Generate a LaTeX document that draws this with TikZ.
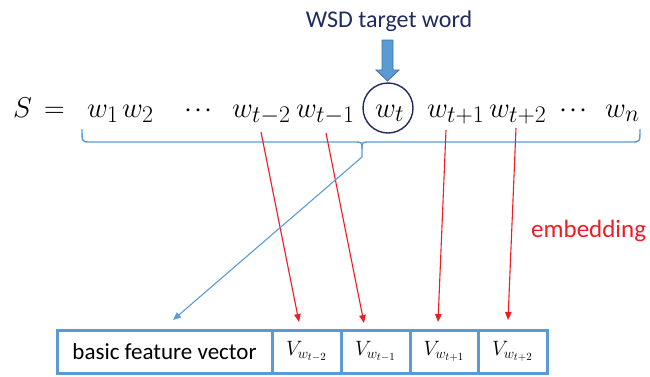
\documentclass[tikz,border=0pt]{standalone}
\usepackage{graphicx}
\usepackage{fontspec}
\newfontfamily\calfont{Carlito}
\usetikzlibrary{arrows.meta}
\definecolor{navy}{RGB}{32,42,94}
\definecolor{bblue}{RGB}{91,155,213}
\definecolor{bdark}{RGB}{65,113,156}
\definecolor{rred}{RGB}{238,28,36}
\newcommand{\mybigtok}[1]{\scalebox{1.15}{\fontsize{24.88}{24.88}\selectfont #1}}
\newcommand{\mythreedots}{$\cdot$\hspace{2pt}$\cdot$\hspace{2pt}$\cdot$}
\tikzset{
  mtok/.style={anchor=base west, inner sep=0pt},
  cell/.style={draw=bblue, line width=3pt, minimum height=43pt, inner sep=0pt, fill=white},
  vcell/.style={cell, font=\fontsize{21}{21}\selectfont},
  redarrow/.style={draw=rred, line width=1.1pt, -{Triangle[length=8pt,width=6.5pt]}},
  bluearrow/.style={draw=bblue, line width=1.1pt, -{Triangle[length=8pt,width=6.5pt]}},
}
\begin{document}
\begin{tikzpicture}[x=1pt,y=-1pt]
\useasboundingbox (0,0) rectangle (650,376);
% title
\node[anchor=base, inner sep=0pt, text=navy, font=\calfont\fontsize{24}{24}\selectfont] (title) at (389,27) {WSD target word};
% block arrow
\fill[bblue, draw=bdark, line width=0.8pt] (382,40) -- (393,40) -- (393,70) -- (399,70) -- (387.5,81) -- (376,70) -- (382,70) -- cycle;
% sentence
\node[mtok] (S) at (13,117) {\mybigtok{$S$}};
\node[mtok] (eq) at (44,117) {\mybigtok{$=$}};
\node[mtok] (w1) at (87,117) {\mybigtok{$w_1$}};
\node[mtok] (w2) at (122,117) {\mybigtok{$w_2$}};
\node[mtok] (d1) at (184,117) {\mybigtok{\mythreedots}};
\node[mtok] (wtm2) at (232,117) {\mybigtok{$w_{t-2}$}};
\node[mtok] (wtm1) at (296,117) {\mybigtok{$w_{t-1}$}};
\node[mtok] (wt) at (375,117) {\mybigtok{$w_t$}};
\node[draw=navy, line width=1.4pt, circle, minimum size=50pt, inner sep=0pt] (circ) at (388,108) {};
\node[mtok] (wtp1) at (427,117) {\mybigtok{$w_{t+1}$}};
\node[mtok] (wtp2) at (489,117) {\mybigtok{$w_{t+2}$}};
\node[mtok] (d2) at (559,117) {\mybigtok{\mythreedots}};
\node[mtok] (wn) at (605,117) {\mybigtok{$w_n$}};
% brace
\coordinate (btip) at (362,157);
\draw[bblue, line width=1.4pt] (82,129) .. controls (82,142) .. (90,142) -- (354,142) .. controls (362,142) .. (362,149) -- (btip);
\draw[bblue, line width=1.4pt] (362,149) .. controls (362,142) .. (370,142) -- (632,142) .. controls (640,142) .. (640,129);
% boxes
\node[cell, minimum width=215pt, font=\calfont\fontsize{23}{23}\selectfont] (bfv) at (164.5,351.5) {basic feature vector};
\node[vcell, minimum width=69pt] (v1) at (306.5,351.5) {$V_{w_{t-2}}$};
\node[vcell, minimum width=69pt] (v2) at (375.5,351.5) {$V_{w_{t-1}}$};
\node[vcell, minimum width=68pt] (v3) at (444,351.5) {$V_{w_{t+1}}$};
\node[vcell, minimum width=69pt] (v4) at (512.5,351.5) {$V_{w_{t+2}}$};
% embedding label
\node[anchor=base west, inner sep=0pt, text=rred, font=\calfont\fontsize{25}{25}\selectfont] (emb) at (531,237) {embedding};
% connectors
\coordinate (s1) at (261,132); \coordinate (e1) at (299,322);
\coordinate (s2) at (326,133); \coordinate (e2) at (364,323);
\coordinate (s3) at (446,130); \coordinate (e3) at (438,322);
\coordinate (s4) at (516,128); \coordinate (e4) at (508,320);
\coordinate (eb) at (173,320);
\draw[redarrow] (s1) -- (e1);
\draw[redarrow] (s2) -- (e2);
\draw[redarrow] (s3) -- (e3);
\draw[redarrow] (s4) -- (e4);
\draw[bluearrow] (btip) -- (eb);
\end{tikzpicture}
\end{document}
